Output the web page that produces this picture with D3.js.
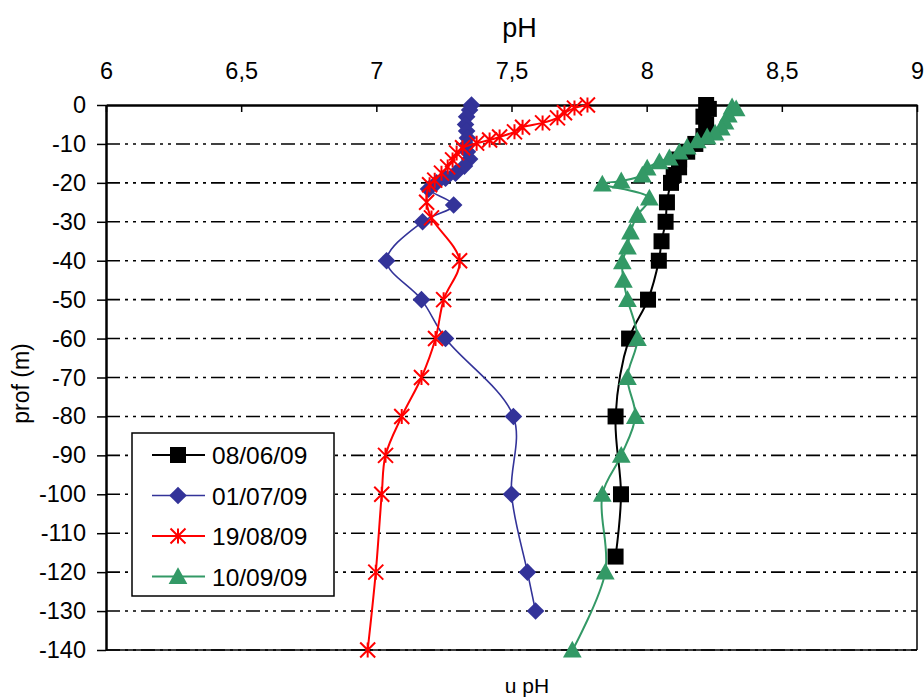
<!DOCTYPE html>
<html><head><meta charset="utf-8">
<script src="https://cdn.jsdelivr.net/npm/d3@7"></script>
<style>
html,body{margin:0;padding:0;background:#fff;}
svg{display:block;font-family:"Liberation Sans",Arial,sans-serif;}
</style></head>
<body>
<svg id="chart" width="924" height="700"></svg>
<script>
// ---------- data ----------
const seriesNames = ["08/06/09", "01/07/09", "19/08/09", "10/09/09"];
const seriesColors = ["#000000", "#333399", "#FF0000", "#339966"];
const seriesMarkers = ["square", "diamond", "asterisk", "triangle"];

const depth0806 = [0, -1, -3, -5, -8, -10, -12, -14, -16, -18, -20, -25, -30, -35, -40, -50, -60, -80, -100, -116];
const ph0806 = [8.22, 8.23, 8.21, 8.22, 8.21, 8.18, 8.15, 8.12, 8.12, 8.10, 8.09, 8.075, 8.07, 8.055, 8.045, 8.005, 7.935, 7.885, 7.905, 7.885];

const depth0107 = [0, -1.3, -3, -5, -6.7, -8.5, -10.3, -12, -13.9, -15.7, -17.5, -18.8, -20, -21.6, -25.7, -30, -40, -50, -60, -80, -100, -120, -130];
const ph0107 = [7.352, 7.345, 7.334, 7.330, 7.334, 7.337, 7.334, 7.337, 7.345, 7.326, 7.293, 7.256, 7.223, 7.193, 7.286, 7.171, 7.038, 7.167, 7.256, 7.507, 7.500, 7.559, 7.589];

const depth1908 = [0, -0.8, -2, -3.3, -4.6, -5.7, -6.9, -8.2, -9, -9.8, -11, -12.3, -14.1, -15.9, -17.5, -19.3, -20.5, -25, -29, -40, -50, -60, -70, -80, -90, -100, -120, -140];
const ph1908 = [7.781, 7.733, 7.696, 7.670, 7.615, 7.541, 7.511, 7.456, 7.419, 7.371, 7.319, 7.297, 7.282, 7.264, 7.241, 7.216, 7.197, 7.186, 7.204, 7.308, 7.249, 7.219, 7.167, 7.094, 7.034, 7.020, 6.998, 6.968];

const depth1009 = [-0.5, -1, -2.6, -4.4, -5.9, -7.2, -8.2, -9.2, -10.8, -12.1, -13.6, -14.6, -16.2, -18, -19.5, -20.3, -23.9, -28.3, -32.6, -36.5, -40.3, -45, -50, -60, -70, -80, -90, -100, -120, -140];
const ph1009 = [8.316, 8.331, 8.302, 8.290, 8.276, 8.253, 8.224, 8.187, 8.150, 8.121, 8.084, 8.047, 8.002, 7.984, 7.906, 7.836, 8.010, 7.966, 7.940, 7.929, 7.910, 7.914, 7.929, 7.966, 7.929, 7.958, 7.906, 7.836, 7.847, 7.725];

const xTicks = [6, 6.5, 7, 7.5, 8, 8.5, 9];
const yTicks = [0, -10, -20, -30, -40, -50, -60, -70, -80, -90, -100, -110, -120, -130, -140];

const xTitle = "pH";
const yTitle = "prof (m)";
const bottomText = "u pH";

const allDepths = [depth0806, depth0107, depth1908, depth1009];
const allPh = [ph0806, ph0107, ph1908, ph1009];

// ---------- layout ----------
const svg = d3.select("#chart");
const L = 106, R = 917, T = 105, B = 650;
const x = d3.scaleLinear().domain([6, 9]).range([L, R]);
const y = d3.scaleLinear().domain([0, -140]).range([T, B]);
const fmt = v => String(v).replace(".", ",");

// gridlines
svg.append("g").selectAll("line").data(yTicks.filter(d => d !== 0)).join("line")
  .attr("x1", L).attr("x2", R)
  .attr("y1", d => y(d)).attr("y2", d => y(d))
  .attr("stroke", "#000").attr("stroke-width", 1.6)
  .attr("stroke-dasharray", "14,5,3,5,3,5");

// plot frame (right / bottom)
svg.append("line").attr("x1", R).attr("x2", R).attr("y1", T).attr("y2", B).attr("stroke", "#000").attr("stroke-width", 1.5);
svg.append("line").attr("x1", L).attr("x2", R).attr("y1", B).attr("y2", B).attr("stroke", "#000").attr("stroke-width", 1.5);

// top axis
const xAxis = d3.axisTop(x).tickValues(xTicks).tickFormat(fmt).tickSizeInner(-7).tickSizeOuter(0).tickPadding(26);
const gx = svg.append("g").attr("transform", `translate(0,${T})`).call(xAxis);
gx.select(".domain").attr("stroke", "#000").attr("stroke-width", 2.5);
gx.selectAll(".tick line").attr("stroke-width", 1.5);
gx.selectAll(".tick text").attr("font-size", 23.5).attr("fill", "#000").attr("font-family", "Liberation Sans, Arial, sans-serif");

// left axis
const yAxis = d3.axisLeft(y).tickValues(yTicks).tickFormat(d => String(d)).tickSizeInner(9).tickSizeOuter(0).tickPadding(11);
const gy = svg.append("g").attr("transform", `translate(${L},0)`).call(yAxis);
gy.select(".domain").attr("stroke", "#000").attr("stroke-width", 2.5);
gy.selectAll(".tick line").attr("stroke-width", 1.5);
gy.selectAll(".tick text").attr("font-size", 23.5).attr("fill", "#000").attr("font-family", "Liberation Sans, Arial, sans-serif");

// titles
svg.append("text").attr("x", (L + R) / 2 + 8).attr("y", 37).attr("text-anchor", "middle")
  .attr("font-size", 27).text(xTitle);
svg.append("text").attr("transform", `translate(29,${(T + B) / 2 + 6}) rotate(-90)`).attr("text-anchor", "middle")
  .attr("font-size", 23).text(yTitle);
svg.append("text").attr("x", 527).attr("y", 693).attr("text-anchor", "middle")
  .attr("font-size", 21).text(bottomText);

// markers
function drawMarker(g, type, color, cx, cy, s) {
  if (type === "square") {
    g.append("rect").attr("x", cx - s / 2).attr("y", cy - s / 2).attr("width", s).attr("height", s).attr("fill", color);
  } else if (type === "diamond") {
    const h = s * 0.55;
    g.append("path").attr("d", `M${cx},${cy - h}L${cx + h},${cy}L${cx},${cy + h}L${cx - h},${cy}Z`).attr("fill", color);
  } else if (type === "triangle") {
    const h = s * 0.55;
    g.append("path").attr("d", `M${cx},${cy - h}L${cx + h},${cy + h * 0.8}L${cx - h},${cy + h * 0.8}Z`).attr("fill", color);
  } else if (type === "asterisk") {
    const h = s / 2;
    g.append("path").attr("d", `M${cx - h},${cy - h}L${cx + h},${cy + h}M${cx - h},${cy + h}L${cx + h},${cy - h}M${cx},${cy - h}L${cx},${cy + h}`)
      .attr("stroke", color).attr("stroke-width", 2).attr("fill", "none");
  }
}

const lineWidths = [2, 1.6, 2, 2];
const markerSizes = [16, 16, 15, 17];
const line = d3.line().x(d => x(d.ph)).y(d => y(d.depth)).curve(d3.curveCatmullRom.alpha(0.5));

seriesNames.forEach((name, i) => {
  const data = allDepths[i].map((d, k) => ({ depth: d, ph: allPh[i][k] }));
  const g = svg.append("g");
  g.append("path").datum(data).attr("d", line).attr("fill", "none")
    .attr("stroke", seriesColors[i]).attr("stroke-width", lineWidths[i]);
  data.forEach(d => drawMarker(g, seriesMarkers[i], seriesColors[i], x(d.ph), y(d.depth), markerSizes[i]));
});

// legend
const lg = svg.append("g");
lg.append("rect").attr("x", 132).attr("y", 433).attr("width", 202).attr("height", 163)
  .attr("fill", "#fff").attr("stroke", "#000").attr("stroke-width", 1.5);
seriesNames.forEach((name, i) => {
  const cy = 455 + i * 40.5;
  lg.append("line").attr("x1", 152).attr("x2", 205).attr("y1", cy).attr("y2", cy)
    .attr("stroke", seriesColors[i]).attr("stroke-width", lineWidths[i]);
  drawMarker(lg, seriesMarkers[i], seriesColors[i], 178, cy, markerSizes[i]);
  lg.append("text").attr("x", 212).attr("y", cy + 9).attr("font-size", 24.5).text(name);
});
</script>
</body></html>
